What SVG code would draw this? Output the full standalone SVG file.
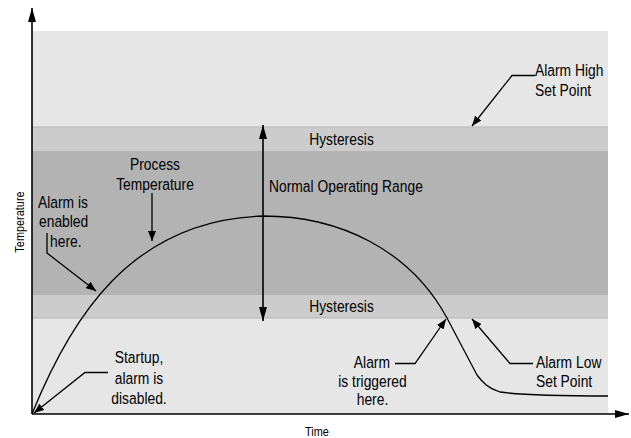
<svg xmlns="http://www.w3.org/2000/svg" width="631" height="438" viewBox="0 0 631 438">
<style>
text{font-family:"Liberation Sans",Arial,sans-serif;font-size:16.5px;fill:#000}
.sm{font-size:13px}
.ln{fill:none;stroke:#000;stroke-width:1.3}
.ax{fill:none;stroke:#000;stroke-width:1.6}
.mid{text-anchor:middle}
.end{text-anchor:end}
</style>
<defs>
<marker id="ah" viewBox="0 0 10 8" refX="10" refY="4" markerWidth="10" markerHeight="8" markerUnits="userSpaceOnUse" orient="auto">
<path d="M0,0 L10,4 L0,8 Z" fill="#000"/>
</marker>
<marker id="ax" viewBox="0 0 14 8" refX="14" refY="4" markerWidth="14" markerHeight="8" markerUnits="userSpaceOnUse" orient="auto">
<path d="M0,0 L14,4 L0,8 Z" fill="#000"/>
</marker>
</defs>
<g id="bands">
<rect x="32" y="31" width="576" height="96" fill="#e6e6e6"/>
<rect x="32" y="127" width="576" height="24" fill="#cccccc"/>
<rect x="32" y="151" width="576" height="144" fill="#b3b3b3"/>
<rect x="32" y="295" width="576" height="23" fill="#cccccc"/>
<rect x="32" y="318" width="576" height="96" fill="#e6e6e6"/>
<line x1="32" y1="127" x2="608" y2="127" stroke="#b5b5b5" stroke-width="1"/>
<line x1="32" y1="318" x2="608" y2="318" stroke="#b5b5b5" stroke-width="1"/>
</g>
<g id="connectors">
<path class="ax" d="M32,414 L32,8" marker-end="url(#ax)"/>
<path class="ax" d="M32,414 L629,414" marker-end="url(#ax)"/>
<path class="ln" d="M32,414 C70,320 130,220 263,216 C340,216 410,250 447,318 L477,375 C483,383 488,388 500,392 C520,395 560,396 608,396"/>
<path class="ax" d="M263,220 L263,125" marker-end="url(#ax)"/>
<path class="ax" d="M263,220 L263,321" marker-end="url(#ax)"/>
<path class="ln" d="M152,193 L152,241" marker-end="url(#ah)"/>
<path class="ln" d="M47,233 L47,253 L96,291" marker-end="url(#ah)"/>
<path class="ln" d="M108,372.5 L85,372.5 L34,413" marker-end="url(#ah)"/>
<path class="ln" d="M535,75.5 L512,75.5 L472,126" marker-end="url(#ah)"/>
<path class="ln" d="M533,363.5 L510,363.5 L472,319" marker-end="url(#ah)"/>
<path class="ln" d="M395,363.5 L415,363.5 L446,319" marker-end="url(#ah)"/>
</g>
<g id="labels">
<text class="mid" transform="translate(341.5,145) scale(0.84,1)">Hysteresis</text>
<text class="mid" transform="translate(341.5,312) scale(0.84,1)">Hysteresis</text>
<text transform="translate(269,192) scale(0.84,1)">Normal Operating Range</text>
<text class="mid" transform="translate(155,170) scale(0.84,1)">Process</text>
<text class="mid" transform="translate(155,189.5) scale(0.84,1)">Temperature</text>
<text transform="translate(38,208) scale(0.84,1)">Alarm is</text>
<text transform="translate(39,227) scale(0.84,1)">enabled</text>
<text transform="translate(50,247) scale(0.84,1)">here.</text>
<text class="mid" transform="translate(139,363) scale(0.84,1)">Startup,</text>
<text class="mid" transform="translate(139,383.5) scale(0.84,1)">alarm is</text>
<text class="mid" transform="translate(139,404) scale(0.84,1)">disabled.</text>
<text transform="translate(535,76) scale(0.84,1)">Alarm High</text>
<text transform="translate(535,96) scale(0.84,1)">Set Point</text>
<text transform="translate(536,367.5) scale(0.84,1)">Alarm Low</text>
<text transform="translate(536,386.5) scale(0.84,1)">Set Point</text>
<text class="end" transform="translate(390,367.5) scale(0.84,1)">Alarm</text>
<text class="mid" transform="translate(372.5,386.5) scale(0.84,1)">is triggered</text>
<text class="mid" transform="translate(372.5,405) scale(0.84,1)">here.</text>
<text class="sm mid" transform="translate(317,435.5) scale(0.84,1)">Time</text>
<text class="sm mid" transform="translate(24,222) rotate(-90) scale(0.84,1)">Temperature</text>
</g>
</svg>
